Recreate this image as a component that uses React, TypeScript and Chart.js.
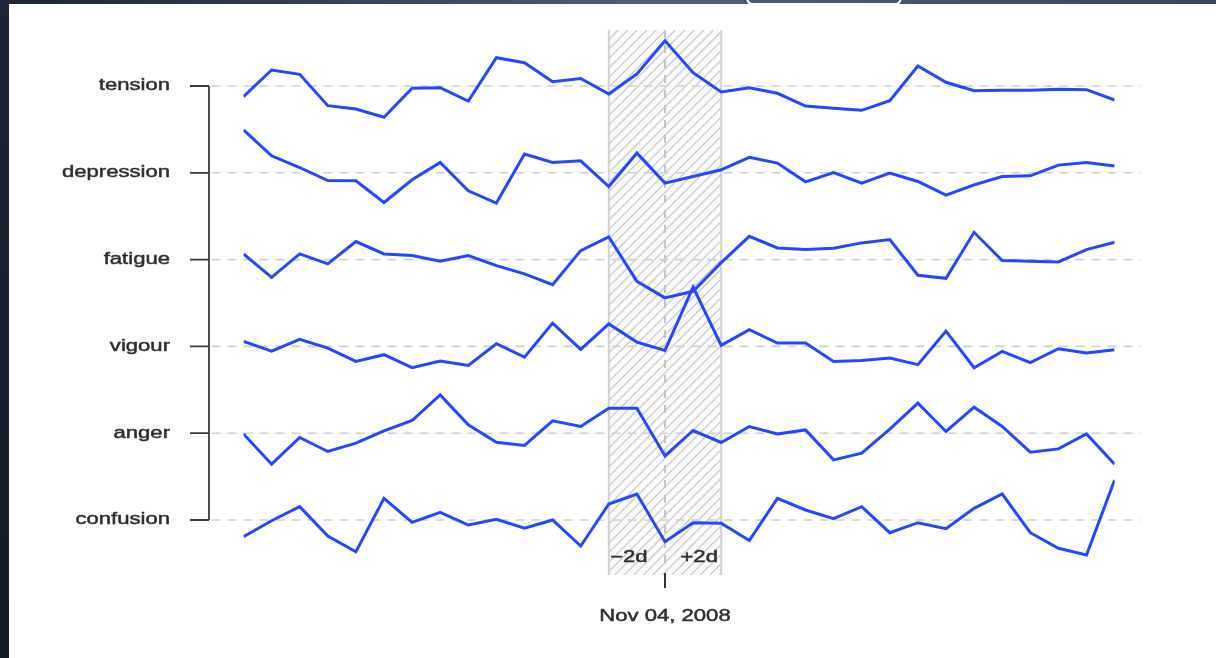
import React, { useEffect, useRef } from "react";
import { Chart, registerables } from "chart.js";

Chart.register(...registerables);

// Days relative to the event (Nov 04, 2008)
const days = [-15, -14, -13, -12, -11, -10, -9, -8, -7, -6, -5, -4, -3, -2, -1, 0, 1, 2, 3, 4, 5, 6, 7, 8, 9, 10, 11, 12, 13, 14, 15, 16];

const moodNames = ["tension", "depression", "fatigue", "vigour", "anger", "confusion"];

// Deviation of each mood score from its row baseline
const tension = [-10.7, 16, 11.7, -19.7, -23, -31.3, -2.3, -1.7, -15, 28.3, 23.3, 4.3, 7.5, -8, 12, 45.3, 13.3, -6, -1.7, -7.3, -20, -22.3, -24.3, -14.7, 20, 3.7, -4.7, -4.3, -4.3, -3.3, -3.7, -14];
const depression = [43, 17, 5.3, -7.7, -8, -29.7, -7, 10.3, -18, -30.3, 18.7, 10.3, 12, -13.7, 19.7, -10.3, -3.7, 3, 15.5, 9.7, -9, 0.3, -10.3, -0.3, -8.7, -22.3, -12, -3.7, -3, 7.7, 10.3, 6.7];
const fatigue = [5.7, -17.7, 5.7, -4.3, 18, 5.7, 4, -1.7, 4, -6, -14.3, -25, 9, 22.7, -21.7, -38.3, -31.7, -3, 23.3, 11.7, 10, 11.3, 16.7, 20, -15.7, -18.7, 27.3, -1, -1.7, -2.3, 10, 17.3];
const vigour = [5, -4.7, 7, -1.7, -15, -8.3, -21.3, -14.7, -19, 2.7, -10.7, 23.3, -3, 22.5, 4.3, -4, 59.3, 1, 16.8, 3.3, 3.3, -15, -14, -11.7, -18.3, 15.3, -21.3, -5, -16.3, -2.3, -6.7, -3.3];
const anger = [-0.7, -31, -4.3, -18.3, -10, 2.3, 12.7, 38.3, 8.3, -9, -12.3, 12.3, 6.7, 25, 25, -22.7, 2.7, -9.3, 6.7, -0.7, 3.3, -26.7, -20, 4, 30, 1.7, 26, 6.7, -19, -15.7, -0.7, -31];
const confusion = [-16.7, -0.7, 13.3, -16, -31.7, 21.7, -2.3, 7.7, -5, 0.7, -8.3, 0, -26, 16, 26, -21.7, -2.7, -3.3, -20.5, 21.7, 10, 1.3, 13.3, -12.7, -2.7, -8.7, 11.7, 26, -12.7, -28.3, -35, 40];

const eventLabel = "Nov 04, 2008";
const windowLabels = ["\u22122d", "+2d"];
const windowDays = [-2, 2];

const ROW_GAP = 86.8;
const ROW_BOTTOM = 55;
const Y_MAX = 545;
const FONT = '16px "Liberation Sans", Arial, sans-serif';
const STRETCH = 1.38;

const seriesList = [tension, depression, fatigue, vigour, anger, confusion];
const rowBase = (i: number) => ROW_BOTTOM + (moodNames.length - 1 - i) * ROW_GAP;

function stretchedText(ctx: CanvasRenderingContext2D, text: string, x: number, y: number, align: CanvasTextAlign) {
  ctx.save();
  ctx.translate(x, y);
  ctx.scale(STRETCH, 1);
  ctx.textAlign = align;
  ctx.textBaseline = "middle";
  ctx.lineWidth = 0.45;
  ctx.strokeStyle = ctx.fillStyle as string;
  ctx.fillText(text, 0, 0);
  ctx.strokeText(text, 0, 0);
  ctx.restore();
}

const decorPlugin = {
  id: "decor",
  beforeDraw(chart: any) {
    const ctx: CanvasRenderingContext2D = chart.ctx;
    const W = chart.width;
    const H = chart.height;
    ctx.save();
    ctx.fillStyle = "#ffffff";
    ctx.fillRect(0, 0, W, H);
    // top band
    const g = ctx.createLinearGradient(0, 0, W, 0);
    g.addColorStop(0, "#1d2435");
    g.addColorStop(0.55, "#4e5e7f");
    g.addColorStop(1, "#384460");
    ctx.fillStyle = g;
    ctx.fillRect(0, 0, W, 4);
    // white outline in band
    ctx.strokeStyle = "#ffffff";
    ctx.lineWidth = 2;
    ctx.beginPath();
    ctx.moveTo(747, -2);
    ctx.quadraticCurveTo(748, 4, 752, 4);
    ctx.lineTo(896, 4);
    ctx.quadraticCurveTo(900, 4, 901, -2);
    ctx.stroke();
    // left band
    const g2 = ctx.createLinearGradient(0, 0, 0, H);
    g2.addColorStop(0, "#1e2537");
    g2.addColorStop(1, "#131926");
    ctx.fillStyle = g2;
    ctx.fillRect(0, 0, 9, H);
    ctx.restore();
  },
  beforeDatasetsDraw(chart: any) {
    const ctx: CanvasRenderingContext2D = chart.ctx;
    const xs = chart.scales.x;
    const ys = chart.scales.y;
    const area = chart.chartArea;
    ctx.save();

    // hatched event window
    const x0 = xs.getPixelForValue(windowDays[0]);
    const x1 = xs.getPixelForValue(windowDays[1]);
    const top = area.top;
    const bottom = area.bottom;
    ctx.fillStyle = "#fafafa";
    ctx.fillRect(x0, top, x1 - x0, bottom - top);
    ctx.save();
    ctx.beginPath();
    ctx.rect(x0, top, x1 - x0, bottom - top);
    ctx.clip();
    ctx.strokeStyle = "#c9c9c9";
    ctx.lineWidth = 1.2;
    const h = bottom - top;
    for (let s = x0 - h; s < x1 + 10; s += 9.5) {
      ctx.beginPath();
      ctx.moveTo(s, bottom);
      ctx.lineTo(s + h, top);
      ctx.stroke();
    }
    ctx.restore();
    ctx.strokeStyle = "#d2d2d2";
    ctx.lineWidth = 2;
    ctx.beginPath();
    ctx.moveTo(x0, top);
    ctx.lineTo(x0, bottom);
    ctx.moveTo(x1, top);
    ctx.lineTo(x1, bottom);
    ctx.stroke();

    // dashed event line
    const xe = xs.getPixelForValue(0);
    ctx.strokeStyle = "#c4c4c4";
    ctx.lineWidth = 2;
    ctx.setLineDash([8, 7]);
    ctx.beginPath();
    ctx.moveTo(xe, top);
    ctx.lineTo(xe, bottom - 8);
    ctx.stroke();

    // dashed row baselines
    ctx.strokeStyle = "#d0d0d0";
    ctx.lineWidth = 1.6;
    ctx.setLineDash([9, 7]);
    for (let i = 0; i < moodNames.length; i++) {
      const y = ys.getPixelForValue(rowBase(i));
      ctx.beginPath();
      ctx.moveTo(area.left - 32, y);
      ctx.lineTo(area.right + 26, y);
      ctx.stroke();
    }
    ctx.setLineDash([]);

    // y axis bracket
    const ax = area.left - 34.5;
    const yTop = ys.getPixelForValue(rowBase(0));
    const yBot = ys.getPixelForValue(rowBase(moodNames.length - 1));
    ctx.strokeStyle = "#3a3a3a";
    ctx.lineWidth = 1.8;
    ctx.beginPath();
    ctx.moveTo(ax, yTop);
    ctx.lineTo(ax, yBot);
    for (let i = 0; i < moodNames.length; i++) {
      const y = ys.getPixelForValue(rowBase(i));
      ctx.moveTo(ax - 19, y);
      ctx.lineTo(ax, y);
    }
    ctx.stroke();

    ctx.fillStyle = "#2e2e2e";
    ctx.font = FONT;
    for (let i = 0; i < moodNames.length; i++) {
      const y = ys.getPixelForValue(rowBase(i));
      stretchedText(ctx, moodNames[i], ax - 39, y, "right");
    }

    // window labels
    stretchedText(ctx, windowLabels[0], x0 + 20, bottom - 17, "center");
    stretchedText(ctx, windowLabels[1], x1 - 22, bottom - 17, "center");

    // x tick + label
    ctx.strokeStyle = "#333333";
    ctx.lineWidth = 2;
    ctx.beginPath();
    ctx.moveTo(xe, bottom - 2);
    ctx.lineTo(xe, bottom + 13);
    ctx.stroke();
    stretchedText(ctx, eventLabel, xe, bottom + 42, "center");

    ctx.restore();
  },
};

export default function App() {
  const ref = useRef<HTMLCanvasElement | null>(null);
  useEffect(() => {
    document.body.style.margin = "0";
    const canvas = ref.current;
    if (!canvas) return;
    const datasets = seriesList.map((vals, i) => ({
      label: moodNames[i],
      data: vals.map((v, j) => ({ x: days[j], y: rowBase(i) + v })),
      borderColor: "#2447ff",
      backgroundColor: "#2447ff",
      borderWidth: 3,
      pointRadius: 0,
      tension: 0,
      fill: false,
      borderJoinStyle: "miter" as const,
    }));
    const chart = new Chart(canvas, {
      type: "line",
      data: { datasets },
      options: {
        animation: false,
        responsive: false,
        devicePixelRatio: 1,
        layout: { padding: { left: 243.5, right: 101.4, top: 30, bottom: 83 } },
        plugins: { legend: { display: false }, tooltip: { enabled: false } },
        scales: {
          x: { type: "linear", min: days[0], max: days[days.length - 1], display: false },
          y: { type: "linear", min: 0, max: Y_MAX, display: false },
        },
      },
      plugins: [decorPlugin],
    });
    return () => chart.destroy();
  }, []);
  return (
    <div style={{ width: 1216, height: 658 }}>
      <canvas ref={ref} width={1216} height={658} style={{ display: "block" }} />
    </div>
  );
}
